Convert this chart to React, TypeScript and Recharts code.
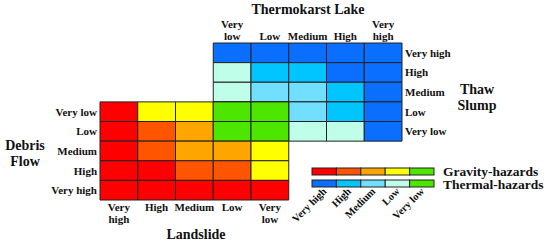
import React from 'react';
import { ScatterChart, Scatter, XAxis, YAxis, ReferenceArea } from 'recharts';

const levels = ['Very high', 'High', 'Medium', 'Low', 'Very low'];
const gravityColors = ['#ff0000', '#ff5500', '#ffa500', '#ffff00', '#4ce600'];
const thermalColors = ['#0a6eff', '#00c5ff', '#73dfff', '#bfffe9', '#4ce600'];

// Landslide (columns) x Debris Flow (rows), rows listed top to bottom
const landslideCols = ['Very high', 'High', 'Medium', 'Low', 'Very low'];
const debrisRows = ['Very low', 'Low', 'Medium', 'High', 'Very high'];
const gravityGrid = [
  [0, 3, 3, 4, 4],
  [0, 1, 2, 4, 4],
  [0, 1, 2, 2, 3],
  [0, 0, 1, 1, 3],
  [0, 0, 0, 0, 0],
];

// Thermokarst Lake (columns) x Thaw Slump (rows), rows listed top to bottom
const lakeCols = ['Very low', 'Low', 'Medium', 'High', 'Very high'];
const slumpRows = ['Very high', 'High', 'Medium', 'Low', 'Very low'];
const thermalGrid = [
  [0, 0, 0, 0, 0],
  [3, 1, 1, 0, 0],
  [3, 2, 2, 1, 0],
  [4, 4, 2, 1, 0],
  [4, 4, 3, 3, 0],
];

const legendRows = [
  { name: 'Gravity-hazards', colors: gravityColors },
  { name: 'Thermal-hazards', colors: thermalColors },
];

const FONT = 'Liberation Serif, Tinos, Times New Roman, DejaVu Serif, serif';

type Cell = { x: number; y: number; fill: string; key: string };

// grid positions in axis units: gravity occupies x 0-5, y 0-5; thermal x 3-8, y 3-8
const thermalCells: Cell[] = thermalGrid.flatMap((row, r) =>
  row.map((lv, c) => ({ x: 3 + c, y: 7 - r, fill: thermalColors[lv], key: `t${r}-${c}` }))
);
const gravityCells: Cell[] = gravityGrid.flatMap((row, r) =>
  row.map((lv, c) => ({ x: c, y: 4 - r, fill: gravityColors[lv], key: `g${r}-${c}` }))
);

const splitLabel = (s: string) => (s.startsWith('Very ') ? ['Very', s.slice(5)] : [s]);

const textProps = { fontFamily: FONT, fontWeight: 'bold', fontSize: 11, fill: '#111' };

const BottomTick = (props: any) => {
  const { x, y, payload } = props;
  const lines = splitLabel(landslideCols[Math.floor(payload.value)]);
  return (
    <text x={x} y={y} textAnchor="middle" {...textProps}>
      {lines.map((l, i) => (
        <tspan key={i} x={x} dy={i === 0 ? 11 : 12}>{l}</tspan>
      ))}
    </text>
  );
};

const TopTick = (props: any) => {
  const { x, y, payload } = props;
  const lines = splitLabel(lakeCols[Math.floor(payload.value) - 3]);
  const first = lines.length === 2 ? -15 : -3;
  return (
    <text x={x} y={y} textAnchor="middle" {...textProps}>
      {lines.map((l, i) => (
        <tspan key={i} x={x} dy={i === 0 ? first : 12}>{l}</tspan>
      ))}
    </text>
  );
};

const LeftTick = (props: any) => {
  const { x, y, payload } = props;
  return (
    <text x={x - 3} y={y + 4} textAnchor="end" {...textProps}>
      {debrisRows[4 - Math.floor(payload.value)]}
    </text>
  );
};

const RightTick = (props: any) => {
  const { x, y, payload } = props;
  return (
    <text x={x + 3} y={y + 4} textAnchor="start" {...textProps}>
      {slumpRows[7 - Math.floor(payload.value)]}
    </text>
  );
};

const titleStyle: React.CSSProperties = {
  position: 'absolute',
  fontFamily: FONT,
  fontWeight: 'bold',
  fontSize: 14,
  color: '#111',
  lineHeight: '16px',
  textAlign: 'center',
  whiteSpace: 'nowrap',
};

const HazardLegend = () => {
  const segW = 24.4;
  const x0 = 312;
  return (
    <svg width={550} height={243} style={{ position: 'absolute', left: 0, top: 0, pointerEvents: 'none' }}>
      {legendRows.map((row, ri) => (
        <g key={row.name}>
          {row.colors.map((c, i) => (
            <rect key={i} x={x0 + i * segW} y={168 + ri * 12} width={segW} height={7} fill={c} stroke="#222" strokeWidth={1} />
          ))}
          <text x={443} y={175.5 + ri * 13.5} fontFamily={FONT} fontWeight="bold" fontSize={13.5} fill="#111">
            {row.name}
          </text>
        </g>
      ))}
      {levels.map((l, i) => {
        const cx = x0 + (i + 0.5) * segW + 3;
        return (
          <text key={l} x={cx} y={192} textAnchor="end" transform={`rotate(-45 ${cx} 192)`} fontFamily={FONT} fontWeight="bold" fontSize={10.5} fill="#111">
            {l}
          </text>
        );
      })}
    </svg>
  );
};

export default function App() {
  return (
    <div style={{ position: 'absolute', left: 0, top: 0, width: 550, height: 243, background: '#fff' }}>
      <ScatterChart width={550} height={243} margin={{ top: 13, bottom: 13, left: 10, right: 58 }}>
        <XAxis xAxisId="b" type="number" dataKey="x" domain={[0, 8]} ticks={[0.5, 1.5, 2.5, 3.5, 4.5]} interval={0} tick={<BottomTick />} axisLine={false} tickLine={false} tickSize={0} tickMargin={0} height={30} orientation="bottom" allowDataOverflow />
        <XAxis xAxisId="t" type="number" dataKey="x" domain={[0, 8]} ticks={[3.5, 4.5, 5.5, 6.5, 7.5]} interval={0} tick={<TopTick />} axisLine={false} tickLine={false} tickSize={0} tickMargin={0} height={30} orientation="top" allowDataOverflow />
        <YAxis yAxisId="l" type="number" dataKey="y" domain={[0, 8]} ticks={[0.5, 1.5, 2.5, 3.5, 4.5]} interval={0} tick={<LeftTick />} axisLine={false} tickLine={false} tickSize={0} tickMargin={0} width={90} orientation="left" allowDataOverflow />
        <YAxis yAxisId="r" type="number" dataKey="y" domain={[0, 8]} ticks={[3.5, 4.5, 5.5, 6.5, 7.5]} interval={0} tick={<RightTick />} axisLine={false} tickLine={false} tickSize={0} tickMargin={0} width={90} orientation="right" allowDataOverflow />
        <Scatter data={[]} xAxisId="b" yAxisId="l" isAnimationActive={false} />
        {thermalCells.concat(gravityCells).map((c) => (
          <ReferenceArea
            key={c.key}
            xAxisId="b"
            yAxisId="l"
            x1={c.x}
            x2={c.x + 1}
            y1={c.y}
            y2={c.y + 1}
            fill={c.fill}
            fillOpacity={1}
            stroke="#222"
            strokeWidth={1}
            ifOverflow="visible"
          />
        ))}
      </ScatterChart>
      <div style={{ ...titleStyle, left: 238, top: 2, width: 140 }}>Thermokarst Lake</div>
      <div style={{ ...titleStyle, left: 437, top: 82, width: 80 }}>Thaw<br />Slump</div>
      <div style={{ ...titleStyle, left: 0, top: 138, width: 50 }}>Debris<br />Flow</div>
      <div style={{ ...titleStyle, left: 146, top: 227, width: 100 }}>Landslide</div>
      <HazardLegend />
    </div>
  );
}
